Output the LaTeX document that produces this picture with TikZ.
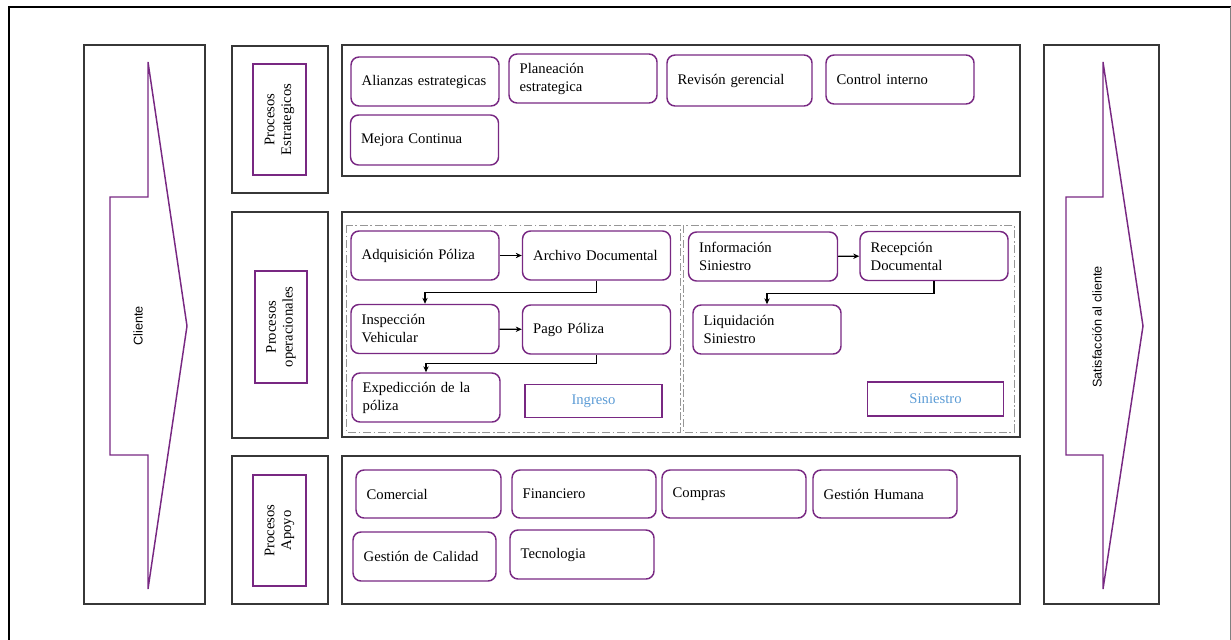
\documentclass[tikz,border=0pt]{standalone}
\usepackage{fontspec}
\setmainfont{Liberation Serif}
\newfontfamily\sidefont{Liberation Sans}
\usetikzlibrary{arrows.meta}
\definecolor{procpurple}{RGB}{120,40,130}
\definecolor{panelgray}{RGB}{55,55,55}
\definecolor{dashgray}{RGB}{150,150,150}
\definecolor{tagblue}{RGB}{91,155,213}

\begin{document}
\begin{tikzpicture}[x=0.75pt,y=-0.75pt,
  panel/.style={draw=panelgray,line width=1pt},
  group/.style={draw=dashgray,line width=0.6pt,dash pattern=on 6pt off 2pt on 1.2pt off 2pt},
  proc/.style={draw=procpurple,line width=1.1pt,rounded corners=6pt,
    minimum height=36.75pt,text width=95pt,inner xsep=8pt,align=left,
    font=\fontsize{11}{13.5}\selectfont},
  tag/.style={draw=procpurple,line width=1.1pt,text=tagblue,
    minimum width=103pt,minimum height=25pt,font=\fontsize{11}{13}\selectfont},
  lane/.style={draw=procpurple,line width=1.1pt,rotate=90,align=center,
    minimum width=83.5pt,minimum height=39.5pt,inner sep=1pt,
    font=\fontsize{11}{12.5}\selectfont},
  chevron/.style={draw=procpurple,line width=1.1pt,line join=miter},
  sidetext/.style={rotate=90,font=\sidefont\fontsize{9.5}{11}\selectfont},
  conn/.style={draw=black,line width=0.8pt,-{Stealth[length=4.5pt,width=4pt]}}
]
\useasboundingbox (0,0) rectangle (1231,639);

% outer frame
\draw[line width=2.2pt] (9,640) -- (9,7) -- (1231,7);
\draw[gray,line width=0.7pt] (1230,7) -- (1230,640);

% side columns
\draw[panel] (84,45) rectangle (205,604);
\draw[panel] (1044,45) rectangle (1159,604);
\draw[chevron]
  (148,62) -- (187,326) -- (148,589) -- (148,455) -- (110,455) -- (110,197) -- (148,197) -- cycle;
\draw[chevron]
  (1103,62) -- (1143,326) -- (1103,589) -- (1103,455) -- (1066,455) -- (1066,197) -- (1103,197) -- cycle;
\node[sidetext] (cliente) at (138,326) {Cliente};
\node[sidetext] (satisf) at (1097,327) {Satisfacción al cliente};

% lane labels
\draw[panel] (232,46) rectangle (328,193);
\draw[panel] (232,212) rectangle (328,438);
\draw[panel] (232,456) rectangle (328,604);
\node[lane] (lestr) at (279.5,119.5) {Procesos\\Estrategicos};
\node[lane,minimum width=84pt,minimum height=39pt] (loper) at (281,327) {Procesos\\operacionales};
\node[lane] (lapoyo) at (279.5,530.5) {Procesos\\Apoyo};

% process panels
\draw[panel] (342,45) rectangle (1020,176);
\draw[panel] (342,212) rectangle (1020,437);
\draw[panel] (342,456) rectangle (1020,604);
\draw[group] (346,225) rectangle (680,432);
\draw[group] (683,225) rectangle (1014,432);

% strategic processes
\node[proc] (e1) at (425,81.5) {Alianzas estrategicas};
\node[proc] (e2) at (583,78.5) {Planeación\\estrategica};
\node[proc,minimum height=38.25pt,text width=92.75pt] (e3) at (739.5,80.5) {Revisón gerencial};
\node[proc] (e4) at (900,79.5) {Control interno};
\node[proc,minimum height=37.5pt] (e5) at (424.5,140) {Mejora Continua};

% operational processes: Ingreso
\node[proc] (o1) at (425,255.5) {Adquisición Póliza};
\node[proc] (o2) at (596.5,255.5) {Archivo Documental};
\node[proc] (o3) at (425,329) {Inspección\\Vehicular};
\node[proc] (o4) at (596.5,329.5) {Pago Póliza};
\node[proc] (o5) at (426,397.5) {Expedicción de la\\póliza};
\node[tag] (ingreso) at (593.5,401) {Ingreso};

% operational processes: Siniestro
\node[proc,text width=95.75pt] (o6) at (763,256.5) {Información\\Siniestro};
\node[proc] (o7) at (934,256) {Recepción\\Documental};
\node[proc] (o8) at (767,329.5) {Liquidación\\Siniestro};
\node[tag,minimum width=102pt,minimum height=25.5pt] (siniestro) at (935.5,399) {Siniestro};

\draw[conn] (o1) -- (o2);
\draw[conn] (o2.south) -- ++(0,12) -| (o3.north);
\draw[conn] (o3) -- (o4);
\draw[conn] (o4.south) -- ++(0,9) -| (o5.north);
\draw[conn] (o6) -- (o7);
\draw[conn] (o7.south) -- ++(0,12) -| (o8.north);

% support processes
\node[proc,minimum height=36pt,text width=92.75pt] (a1) at (428.5,494) {Comercial};
\node[proc,minimum height=36pt,text width=92pt] (a2) at (584,494) {Financiero};
\node[proc,minimum height=36pt,text width=92pt] (a3) at (734,494) {Compras};
\node[proc,minimum height=36pt,text width=92pt] (a4) at (885,494) {Gestión Humana};
\node[proc,text width=91.25pt] (a5) at (424.5,556.5) {Gestión de Calidad};
\node[proc,text width=92pt] (a6) at (582,554.5) {Tecnologia};
\end{tikzpicture}
\end{document}
